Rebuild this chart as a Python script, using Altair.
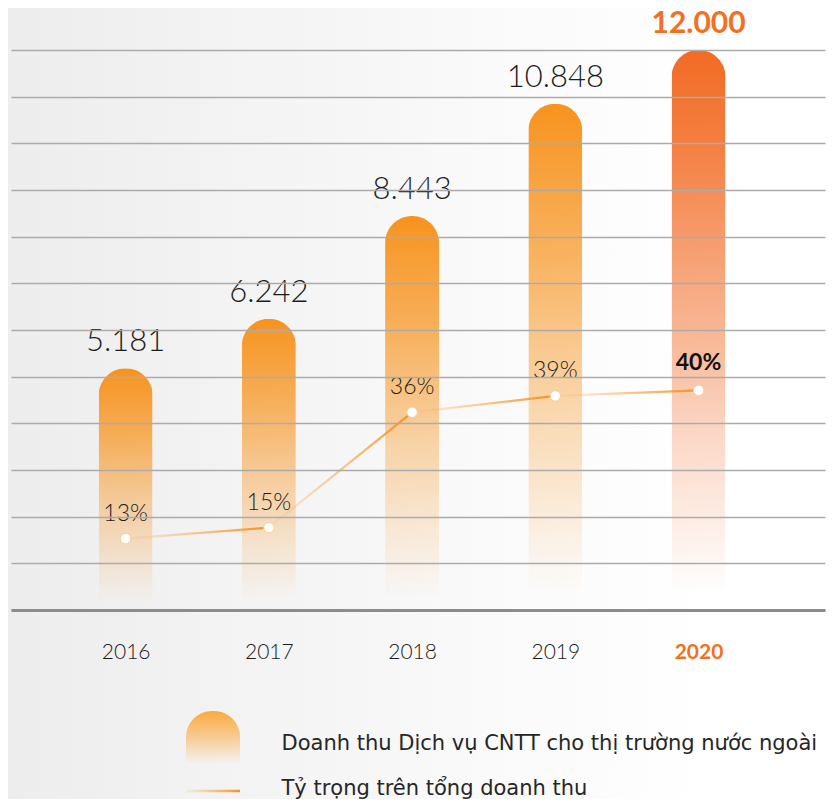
import altair as alt
import pandas as pd

# ---------------- data ----------------
years = [2016, 2017, 2018, 2019, 2020]
revenue = [5181, 6242, 8443, 10848, 12000]
revenue_labels = ["5.181", "6.242", "8.443", "10.848", "12.000"]
share = [13, 15, 36, 39, 40]
share_labels = ["13%", "15%", "36%", "39%", "40%"]
legend_labels = ["Doanh thu Dịch vụ CNTT cho thị trường nước ngoài",
                 "Tỷ trọng trên tổng doanh thu"]
grid_values = list(range(0, 12001, 1000))
highlight_year = 2020

# ---------------- styling ----------------
W, H = 814, 560
FONT = "Lato"
LEG_FONT = "DejaVu Sans"
ORANGE_TEXT = "#F37021"
DARK = "#1C1C1C"

df = pd.DataFrame({
    "year": years,
    "revenue": revenue,
    "rev_label": revenue_labels,
    "share": share,
    "share_label": share_labels,
})

seg_rows = []
for i in range(len(years) - 1):
    for j in (i, i + 1):
        seg_rows.append({"seg": i, "year": years[j], "share": share[j]})
seg_df = pd.DataFrame(seg_rows)


def grad(stops, x1=0, y1=0, x2=0, y2=1):
    return alt.LinearGradient(
        gradient="linear", x1=x1, y1=y1, x2=x2, y2=y2,
        stops=[alt.GradientStop(color=c, offset=o) for o, c in stops])


bar_grad = grad([(0, "rgba(247,147,30,1)"), (0.3, "rgba(247,150,35,0.72)"),
                 (0.6, "rgba(247,155,45,0.38)"), (0.97, "rgba(247,160,60,0)"),
                 (1, "rgba(247,160,60,0)")])
hl_grad = grad([(0, "rgba(242,107,36,1)"), (0.15, "rgba(242,110,40,0.9)"),
                (0.52, "rgba(242,115,50,0.5)"), (0.7, "rgba(242,120,60,0.28)"),
                (0.97, "rgba(242,120,60,0)"), (1, "rgba(242,120,60,0)")])
line_grad = grad([(0, "rgba(248,175,100,0.12)"), (1, "rgba(247,147,30,1)")], x2=1, y2=0)
bg_grad = grad([(0, "#EDEDED"), (0.5, "#F8F8F8"), (0.85, "#FFFFFF"), (1, "#FFFFFF")], x2=1, y2=0)
legend_bar_grad = grad([(0, "rgba(250,170,60,1)"), (0.5, "rgba(250,175,80,0.6)"),
                        (1, "rgba(250,185,100,0.03)")])

X = alt.X(
    "year:Q",
    scale=alt.Scale(domain=[2015.2345, 2020.848], nice=False, zero=False),
    axis=alt.Axis(
        values=years, format="d", title=None, grid=False, ticks=False, tickSize=0,
        domainColor="#8C8C8C", domainWidth=3, labelPadding=31, labelFont=FONT,
        labelFontSize=21,
        labelColor=alt.ExprRef(expr=f"datum.value == {highlight_year} ? '{ORANGE_TEXT}' : '#1C1C1C'"),
        labelFontWeight=alt.ExprRef(expr=f"datum.value == {highlight_year} ? 'bold' : 300"),
        zindex=1,
    ),
)
Y_rev_axis = alt.Y(
    "revenue:Q",
    scale=alt.Scale(domain=[0, 12000], nice=False),
    axis=alt.Axis(values=grid_values, grid=True, labels=False, ticks=False, domain=False,
                  title=None, gridColor="#ABABAB", gridWidth=1.3, zindex=1),
)
Y_rev = alt.Y("revenue:Q", scale=alt.Scale(domain=[0, 12000], nice=False), axis=None)
Y_share = alt.Y("share:Q", scale=alt.Scale(domain=[0, 102], nice=False), axis=None)

one = alt.Data(values=[{"k": 1}])

bg = alt.Chart(one).mark_rect(fill=bg_grad).encode(
    x=alt.value(-3), x2=alt.value(W + 5), y=alt.value(-42), y2=alt.value(H + 189))

bars = alt.Chart(df).transform_filter(f"datum.year != {highlight_year}").mark_bar(
    size=54, cornerRadiusTopLeft=27, cornerRadiusTopRight=27, fill=bar_grad
).encode(x=X, y=Y_rev_axis)

bars_hl = alt.Chart(df).transform_filter(f"datum.year == {highlight_year}").mark_bar(
    size=54, cornerRadiusTopLeft=27, cornerRadiusTopRight=27, fill=hl_grad
).encode(x=X, y=Y_rev)

line = alt.Chart(seg_df).mark_line(stroke=line_grad, strokeWidth=2.2, strokeCap="round").encode(
    x=X, y=Y_share, detail="seg:N")

points = alt.Chart(df).mark_circle(size=110, fill="white", stroke="#F9CC98",
                                   strokeWidth=1, opacity=1).encode(x=X, y=Y_share)

val_lbl = alt.Chart(df).transform_filter(f"datum.year != {highlight_year}").mark_text(
    dy=-17, baseline="alphabetic", fontSize=31, font=FONT, fontWeight=300, color=DARK
).encode(x=X, y=Y_rev, text="rev_label:N")

val_lbl_hl = alt.Chart(df).transform_filter(f"datum.year == {highlight_year}").mark_text(
    dy=-17, baseline="alphabetic", fontSize=30, font=FONT, fontWeight="bold", color=ORANGE_TEXT
).encode(x=X, y=Y_rev, text="rev_label:N")

pct_lbl = alt.Chart(df).transform_filter(f"datum.year != {highlight_year}").mark_text(
    dy=-18, baseline="alphabetic", fontSize=23, font=FONT, fontWeight=300, color=DARK
).encode(x=X, y=Y_share, text="share_label:N")

pct_lbl_hl = alt.Chart(df).transform_filter(f"datum.year == {highlight_year}").mark_text(
    dy=-20, baseline="alphabetic", fontSize=23, font=FONT, fontWeight="bold", color="#111111"
).encode(x=X, y=Y_share, text="share_label:N")

# ---------------- legend ----------------
leg_bar = alt.Chart(one).mark_rect(fill=legend_bar_grad, cornerRadiusTopLeft=27,
                                   cornerRadiusTopRight=27).encode(
    x=alt.value(175), x2=alt.value(229), y=alt.value(661), y2=alt.value(713))
leg_line = alt.Chart(one).mark_rect(fill=line_grad).encode(
    x=alt.value(175), x2=alt.value(229), y=alt.value(739.8), y2=alt.value(742.2))
leg_text1 = alt.Chart(alt.Data(values=[{"label": legend_labels[0]}])).mark_text(
    align="left", baseline="alphabetic", fontSize=21, font=LEG_FONT, fontWeight="normal",
    color="#262626"
).encode(x=alt.value(270.5), y=alt.value(700), text="label:N")
leg_text2 = alt.Chart(alt.Data(values=[{"label": legend_labels[1]}])).mark_text(
    align="left", baseline="alphabetic", fontSize=21, font=LEG_FONT, fontWeight="normal",
    color="#262626"
).encode(x=alt.value(270.5), y=alt.value(745), text="label:N")

chart = alt.layer(
    bg, bars, bars_hl, line, points, val_lbl, val_lbl_hl, pct_lbl, pct_lbl_hl,
    leg_bar, leg_line, leg_text1, leg_text2,
).resolve_scale(y="independent").properties(
    width=W, height=H,
    autosize=alt.AutoSizeParams(type="none"),
    padding={"left": 3, "top": 42, "right": 5, "bottom": 189},
    background="#FFFFFF",
).configure_view(stroke=None)

chart.save("out.html", embed_options={"renderer": "svg", "actions": False})
